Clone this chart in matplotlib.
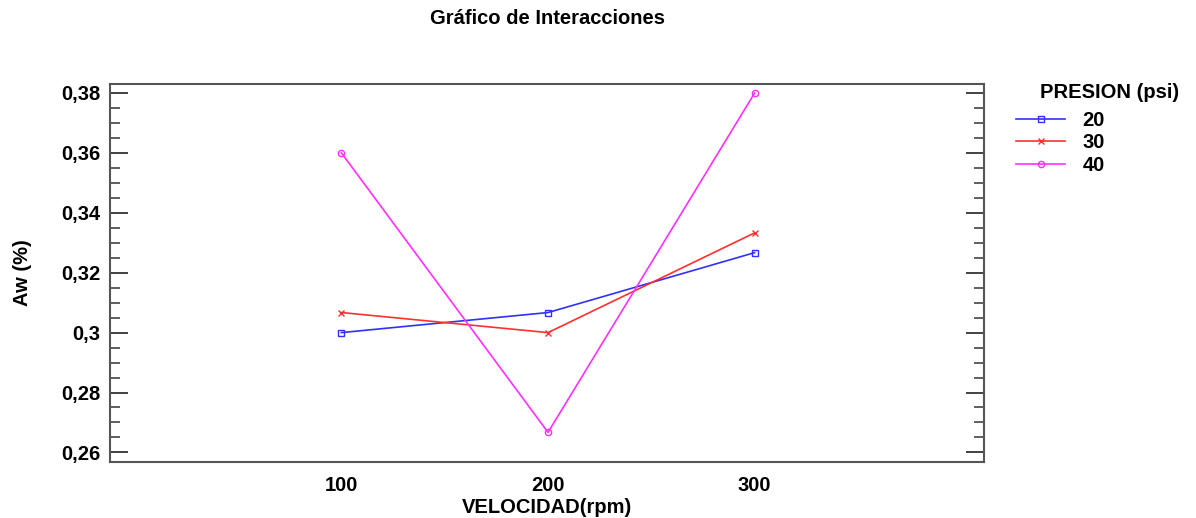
import matplotlib
matplotlib.use("Agg")
import matplotlib.pyplot as plt
from matplotlib.ticker import MultipleLocator, FixedLocator

plt.rcParams['font.family'] = ['Liberation Sans', 'DejaVu Sans']
plt.rcParams['font.weight'] = 'bold'

velocidad = [100, 200, 300]
series_labels = ["20", "30", "40"]
aw_20 = [0.300, 0.3067, 0.3267]
aw_30 = [0.3067, 0.300, 0.3333]
aw_40 = [0.360, 0.2667, 0.380]
y_ticks = [0.26, 0.28, 0.30, 0.32, 0.34, 0.36, 0.38]
y_tick_labels = ["0,26", "0,28", "0,3", "0,32", "0,34", "0,36", "0,38"]

fig = plt.figure(figsize=(11.96, 5.18), dpi=100)
ax = fig.add_axes([110/1196, 1-462/518, (984-110)/1196, (462-84)/518])

styles = [
    dict(color='#3030ff', marker='s'),
    dict(color='#ff3030', marker='x'),
    dict(color='#ff30ff', marker='o'),
]
for vals, lab, st in zip([aw_20, aw_30, aw_40], series_labels, styles):
    ax.plot(velocidad, vals, color=st['color'], marker=st['marker'], markersize=4.5,
            markerfacecolor='none', markeredgecolor=st['color'], markeredgewidth=1.0,
            linewidth=1.2, label=lab)

ax.set_xlim(-12, 411)
ax.set_ylim(0.2568, 0.3830)
ax.set_xticks(velocidad)
ax.set_xticklabels([str(v) for v in velocidad], fontsize=14.5, fontweight='bold')
ax.tick_params(axis='x', length=0, pad=10)
ax.yaxis.set_major_locator(FixedLocator(y_ticks))
ax.set_yticklabels(y_tick_labels, fontsize=14.5, fontweight='bold')
ax.yaxis.set_minor_locator(MultipleLocator(0.005))
ax.tick_params(axis='y', which='major', direction='in', length=13, width=1.3,
               left=True, right=True, color='#333333', pad=7)
ax.tick_params(axis='y', which='minor', direction='in', length=7, width=1.1,
               left=True, right=True, color='#333333')
for s in ax.spines.values():
    s.set_color('#555555')
    s.set_linewidth(1.5)

ax.set_xlabel("VELOCIDAD(rpm)", fontsize=14.5, fontweight='bold', labelpad=2)
ax.set_ylabel("Aw (%)", fontsize=14.5, fontweight='bold', labelpad=21)
fig.text(547/1196, 1-18/518, "Gráfico de Interacciones", ha='center', va='center',
         fontsize=14.5, fontweight='bold')

fig.text(1040/1196, 1-93/518, "PRESION (psi)", ha='left', va='center',
         fontsize=14.5, fontweight='bold')
leg = ax.legend(loc='upper left', bbox_to_anchor=(1016/1196, 1-111/518),
                bbox_transform=fig.transFigure, frameon=False,
                fontsize=14.5, handlelength=2.45, handletextpad=0.85,
                labelspacing=0.17, borderaxespad=0, borderpad=0)

fig.savefig("out.png", dpi=100)
